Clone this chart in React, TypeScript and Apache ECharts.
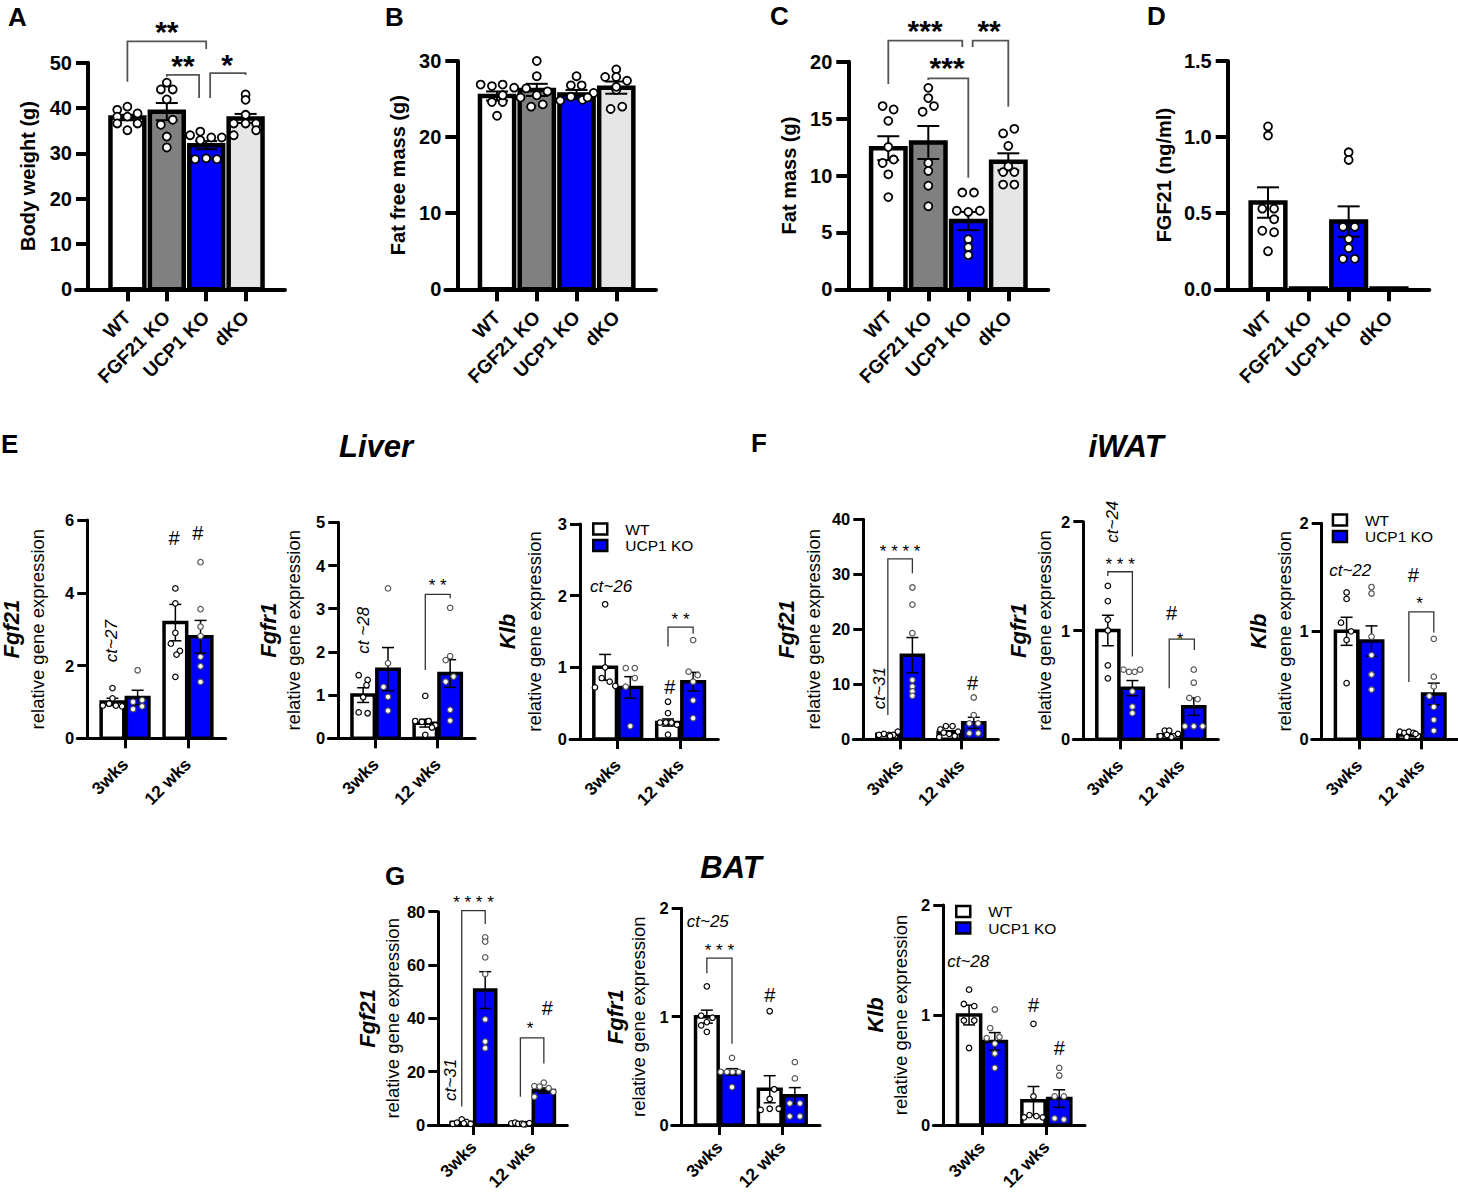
import React, { useEffect, useRef } from "react";
import * as echarts from "echarts";

const FONT = "'Liberation Sans', Arial, Helvetica, sans-serif";

// ---------------- categories ----------------
const genotypes = ["WT", "FGF21 KO", "UCP1 KO", "dKO"];
const ages = ["3wks", "12 wks"];
const legendNames = ["WT", "UCP1 KO"];
const genotypeColors = ["#ffffff", "#808080", "#0000ff", "#e6e6e6"];
const pairColors = ["#ffffff", "#0000ff"];

// ---------------- A: body weight (g) ----------------
const bodyWeightMean = [37.9, 39.2, 31.8, 37.7];
const bodyWeightSem = [0.6, 1.9, 0.9, 1.0];
const bodyWeightDots = [
  [[-0.6, 39.6], [0, 40.3], [0.6, 38.8], [-0.6, 38.1], [0, 38.1], [-0.6, 36.6], [0, 35.1], [0.6, 36.6]],
  [[-0.35, 44.1], [0, 45.6], [0.35, 44.1], [0, 41.9], [-0.35, 36.3], [0.35, 37.4], [0, 33.7], [0, 31.3]],
  [[-0.95, 34.0], [-0.35, 34.8], [0.3, 33.5], [0.92, 33.5], [-0.35, 32.9], [-0.65, 28.7], [0, 28.9], [0.63, 28.7]],
  [[0, 43.0], [0, 41.8], [0, 38.5], [-0.7, 34.0], [-0.7, 36.6], [0.62, 36.6], [0.62, 35.1], [0, 36.6]],
];
// ---------------- B: fat free mass (g) ----------------
const fatFreeMean = [25.4, 26.2, 25.6, 26.5];
const fatFreeSem = [0.6, 0.8, 0.6, 0.8];
const fatFreeDots = [
  [[-0.96, 26.9], [-0.3, 26.7], [0.33, 26.9], [1.0, 26.5], [-0.3, 24.6], [0.33, 24.6], [0, 22.8], [0.33, 25.5]],
  [[-0.62, 26.4], [0, 30.0], [0, 28.0], [0.63, 26.0], [0, 25.5], [-0.33, 24.0], [0.35, 24.3], [-0.95, 25.2]],
  [[0, 28.0], [-0.33, 26.8], [0.3, 26.8], [-0.95, 24.8], [-0.33, 25.3], [0.35, 24.9], [1.0, 25.8], [0.65, 25.2]],
  [[0, 28.9], [-0.65, 27.9], [0, 27.9], [0.63, 27.4], [0, 26.2], [-0.33, 23.7], [0.35, 24.0], [0, 26.6]],
];
// ---------------- C: fat mass (g) ----------------
const fatMassMean = [12.4, 12.9, 6.0, 11.2];
const fatMassSem = [1.05, 1.45, 0.8, 0.75];
const fatMassDots = [
  [[-0.33, 16.1], [0.31, 15.8], [0, 14.8], [0, 12.5], [0.31, 11.4], [-0.33, 11.1], [0, 10.1], [0, 8.1]],
  [[0, 17.7], [0, 16.8], [0.33, 16.1], [-0.33, 15.6], [0, 11.1], [0, 10.4], [0, 9.1], [0, 7.3]],
  [[-0.35, 8.5], [0.33, 8.5], [-0.67, 6.9], [0, 6.8], [0.67, 6.9], [0, 4.4], [0, 3.7], [0, 3.0]],
  [[-0.3, 13.7], [0.35, 14.1], [0, 12.6], [-0.3, 10.3], [0.35, 10.3], [0, 10.8], [-0.3, 9.2], [0.35, 9.2]],
];
// ---------------- D: serum FGF21 (ng/ml) ----------------
const serumFgf21Mean = [0.57, 0.005, 0.445, 0.005];
const serumFgf21Sem = [0.1, 0, 0.1, 0];
const serumFgf21Dots = [
  [[0, 1.07], [0, 1.01], [-0.33, 0.53], [0.35, 0.53], [0.35, 0.46], [-0.33, 0.385], [0.35, 0.375], [0, 0.25]],
  [],
  [[0, 0.9], [0, 0.85], [-0.33, 0.41], [0.35, 0.41], [0, 0.33], [0, 0.27], [-0.33, 0.2], [0.35, 0.2]],
  [],
];

// ---------------- E: liver  ([WT, UCP1 KO] x [3wks, 12 wks]) ----------------
const liverFgf21Mean = [[1.0, 3.18], [1.12, 2.79]];
const liverFgf21Sem = [[0.1, 0.5], [0.2, 0.45]];
const liverFgf21Dots = [
  [[[0, 1.38], [-0.85, 0.9], [-0.3, 0.95], [0.3, 0.9], [0.85, 0.88], [0, 1.1]],
   [[0, 4.12], [0, 3.71], [0, 2.9], [-0.4, 2.6], [0.4, 2.4], [0.1, 2.3], [0, 1.69]]],
  [[[0, 1.87], [-0.4, 1.0], [0.4, 1.05], [-0.4, 0.8], [0.4, 0.88]],
   [[0, 4.84], [0, 3.55], [0, 3.07], [0, 2.81], [0, 2.24], [0, 1.98], [0, 1.55]]],
];
const liverFgfr1Mean = [[1.0, 0.35], [1.6, 1.5]];
const liverFgfr1Sem = [[0.17, 0.09], [0.5, 0.32]];
const liverFgfr1Dots = [
  [[[-0.4, 1.46], [0.4, 1.35], [0.3, 1.23], [0, 0.95], [-0.4, 0.6], [0.4, 0.58]],
   [[0, 0.98], [-0.9, 0.4], [-0.3, 0.38], [0.3, 0.4], [0.9, 0.3], [0.6, 0.25], [0, 0.08]]],
  [[[0, 3.47], [0, 1.74], [-0.4, 1.19], [0, 0.96], [0, 0.64]],
   [[0, 3.02], [0, 1.9], [-0.4, 1.81], [0.3, 1.43], [-0.4, 1.31], [0, 0.66], [0, 0.41]]],
];
const liverKlbMean = [[1.0, 0.23], [0.72, 0.8]];
const liverKlbSem = [[0.18, 0.05], [0.15, 0.13]];
const liverKlbDots = [
  [[[0, 1.88], [0, 1.0], [-0.3, 0.85], [0.4, 0.8], [-0.9, 0.72], [0.9, 0.74]],
   [[0, 0.52], [0, 0.36], [-0.7, 0.23], [-0.2, 0.23], [0.3, 0.23], [0.8, 0.2], [0, 0.06]]],
  [[[-0.4, 0.99], [0.4, 0.99], [0.4, 0.85], [-0.4, 0.73], [0, 0.18]],
   [[0, 1.38], [-0.4, 0.94], [0.4, 0.89], [0, 0.8], [0, 0.54], [0, 0.29]]],
];

// ---------------- F: iWAT ----------------
const iwatFgf21Mean = [[0.9, 1.3], [15.3, 3.0]];
const iwatFgf21Sem = [[0.15, 0.25], [3.2, 1.0]];
const iwatFgf21Dots = [
  [[[-0.8, 0.8], [-0.35, 1.0], [0.1, 0.8], [0.5, 0.8], [0.9, 1.4], [0.2, 0.6]],
   [[-0.3, 2.4], [0.3, 2.4], [-0.8, 1.8], [0.8, 1.4], [-0.5, 1.2], [0, 1.0], [0.5, 0.6], [-0.9, 0.4]]],
  [[[0, 27.6], [0, 24.5], [0, 19.3], [0, 10.8], [0, 9.6], [0, 8.7], [0, 7.9]],
   [[0, 7.6], [0, 4.4], [-0.4, 2.9], [0.4, 2.9], [-0.4, 1.1], [0.4, 1.1]]],
];
const iwatFgfr1Mean = [[1.0, 0.04], [0.47, 0.3]];
const iwatFgfr1Sem = [[0.14, 0.01], [0.07, 0.08]];
const iwatFgfr1Dots = [
  [[[0, 1.41], [0, 1.27], [0, 1.1], [0, 1.0], [0, 0.68], [0, 0.56]],
   [[-0.8, 0.03], [-0.4, 0.08], [0, 0.08], [0.4, 0.03], [0.8, 0.05], [0.2, 0.02], [-0.2, 0.04]]],
  [[[-0.8, 0.64], [-0.3, 0.62], [0.2, 0.62], [0.7, 0.64], [0, 0.44], [0, 0.3], [0, 0.24]],
   [[0, 0.64], [0, 0.52], [-0.4, 0.38], [0.35, 0.37], [-0.8, 0.12], [0, 0.12], [0.8, 0.12]]],
];
const iwatKlbMean = [[1.0, 0.04], [0.91, 0.42]];
const iwatKlbSem = [[0.13, 0.01], [0.14, 0.1]];
const iwatKlbDots = [
  [[[0, 1.36], [0, 1.3], [-0.5, 1.08], [0.4, 1.0], [0, 0.92], [0, 0.52]],
   [[-0.8, 0.07], [-0.4, 0.06], [0, 0.07], [0.4, 0.06], [0.8, 0.03], [-0.2, 0.02], [0.6, 0.05]]],
  [[[0, 1.41], [0, 1.35], [0, 0.95], [0, 0.78], [0, 0.6], [0, 0.46]],
   [[0, 0.93], [0, 0.58], [0, 0.49], [-0.4, 0.4], [0, 0.3], [0, 0.18], [0, 0.08]]],
];

// ---------------- G: BAT ----------------
const batFgf21Mean = [[1.0, 0.5], [50.6, 12.9]];
const batFgf21Sem = [[0.3, 0.1], [6.9, 1.0]];
const batFgf21Dots = [
  [[[-0.85, 0.4], [-0.45, 0.9], [0, 2.1], [0.45, 1.2], [0.85, 0.4], [0.2, 0.6]],
   [[-0.85, 0.6], [-0.5, 0.9], [-0.2, 0.4], [0.15, 0.5], [0.5, 0.3], [0.85, 0.7], [0.3, 0.2]]],
  [[[0, 70.4], [0, 68.8], [0, 62.9], [0, 56.6], [0, 39.6], [0, 31.3], [0, 28.8]],
   [[0, 15.9], [-0.9, 14.6], [-0.4, 14.4], [0.45, 13.8], [0.9, 12.4], [-0.9, 10.6]]],
];
const batFgfr1Mean = [[1.0, 0.33], [0.49, 0.27]];
const batFgfr1Sem = [[0.06, 0.125], [0.03, 0.075]];
const batFgfr1Dots = [
  [[[0, 1.28], [-0.5, 1.01], [0.5, 0.99], [0, 0.95], [-0.5, 0.92], [0, 0.86]],
   [[0, 1.05], [0.4, 0.33], [0, 0.24], [-0.8, 0.14], [0, 0.15], [0.8, 0.15]]],
  [[[0, 0.62], [-1.0, 0.49], [-0.45, 0.49], [0.05, 0.49], [0.6, 0.49], [0, 0.35]],
   [[0, 0.58], [0, 0.43], [-0.45, 0.2], [0.45, 0.2], [-0.45, 0.08], [0.45, 0.08]]],
];
const batKlbMean = [[1.0, 0.22], [0.76, 0.24]];
const batKlbSem = [[0.09, 0.13], [0.08, 0.08]];
const batKlbDots = [
  [[[0, 1.23], [-0.45, 1.1], [0.45, 1.08], [-0.45, 0.95], [0.45, 0.95], [0, 0.7]],
   [[0, 0.92], [0, 0.26], [-0.8, 0.07], [-0.35, 0.09], [0.25, 0.08], [0.8, 0.07]]],
  [[[0, 1.05], [-0.4, 0.88], [0.4, 0.8], [-0.7, 0.79], [0, 0.74], [0, 0.65], [0, 0.52]],
   [[0, 0.52], [0, 0.45], [-0.4, 0.26], [0.4, 0.26], [-0.4, 0.06], [0.4, 0.05]]],
];

// ---------------- annotations (data coordinates) ----------------
const bodyWeightAnn = [
  { t: "br", x1: 1, x2: 3, y: 54.7, yl: 45.8, yr: 53.0 },
  { t: "tx", x: 2, y: 58.6, text: "**" },
  { t: "br", x1: 2, x2: 2.82, y: 47.3, yl: 46.9, yr: 42.2 },
  { t: "tx", x: 2.41, y: 51.1, text: "**" },
  { t: "br", x1: 3.1, x2: 4, y: 47.7, yl: 42.2, yr: 47.3 },
  { t: "tx", x: 3.53, y: 51.3, text: "*" },
];
const fatMassAnn = [
  { t: "br", x1: 1, x2: 2.85, y: 21.85, yl: 18.04, yr: 21.3 },
  { t: "tx", x: 1.92, y: 23.4, text: "***" },
  { t: "br", x1: 3.11, x2: 4, y: 21.85, yl: 21.3, yr: 16.05 },
  { t: "tx", x: 3.52, y: 23.4, text: "**" },
  { t: "br", x1: 2, x2: 3, y: 18.54, yl: 18.39, yr: 9.8 },
  { t: "tx", x: 2.47, y: 20.15, text: "***" },
];
const liverFgf21Ann = [
  { t: "tx", x: 1.378, y: 5.5, text: "#" },
  { t: "tx", x: 1.755, y: 5.63, text: "#" },
  { t: "tx", x: 0.388, y: 2.67, text: "ct~27", it: true, rot: true },
];
const liverFgfr1Ann = [
  { t: "br", x1: 1.4, x2: 1.8, y: 3.33, yl: 1.58, yr: 3.24 },
  { t: "tx", x: 1.6, y: 3.64, text: "* *" },
  { t: "tx", x: 0.41, y: 2.5, text: "ct ~28", it: true, rot: true },
];
const liverKlbAnn = [
  { t: "tx", x: 1.43, y: 0.73, text: "#" },
  { t: "br", x1: 1.4, x2: 1.8, y: 1.56, yl: 1.29, yr: 1.47 },
  { t: "tx", x: 1.6, y: 1.73, text: "* *" },
  { t: "tx", x: 0.16, y: 2.13, text: "ct~26", it: true, align: "left" },
];
const iwatFgf21Ann = [
  { t: "br", x1: 0.4, x2: 0.8, y: 32.8, yl: 4.4, yr: 30.2 },
  { t: "tx", x: 0.6, y: 35.0, text: "* * * *" },
  { t: "tx", x: 1.78, y: 10.2, text: "#" },
  { t: "tx", x: 0.27, y: 9.3, text: "ct~31", it: true, rot: true },
];
const iwatFgfr1Ann = [
  { t: "br", x1: 0.4, x2: 0.8, y: 1.54, yl: 1.5, yr: 0.76 },
  { t: "tx", x: 0.6, y: 1.65, text: "* * *" },
  { t: "tx", x: 0.47, y: 2.0, text: "ct~24", it: true, rot: true },
  { t: "tx", x: 1.44, y: 1.16, text: "#" },
  { t: "tx", x: 1.575, y: 0.96, text: "*" },
  { t: "br", x1: 1.4, x2: 1.81, y: 0.92, yl: 0.47, yr: 0.82 },
];
const iwatKlbAnn = [
  { t: "tx", x: 0.12, y: 1.56, text: "ct~22", it: true, align: "left" },
  { t: "tx", x: 1.47, y: 1.52, text: "#" },
  { t: "tx", x: 1.57, y: 1.3, text: "*" },
  { t: "br", x1: 1.4, x2: 1.8, y: 1.18, yl: 0.53, yr: 0.99 },
];
const batFgf21Ann = [
  { t: "br", x1: 0.4, x2: 0.8, y: 80.4, yl: 6.9, yr: 75.4 },
  { t: "tx", x: 0.6, y: 85, text: "* * * *" },
  { t: "br", x1: 1.4, x2: 1.8, y: 32.7, yl: 10.6, yr: 23.1 },
  { t: "tx", x: 1.565, y: 37.9, text: "*" },
  { t: "tx", x: 1.86, y: 43.8, text: "#" },
  { t: "tx", x: 0.2, y: 16.9, text: "ct~31", it: true, rot: true },
];
const batFgfr1Ann = [
  { t: "tx", x: 0.08, y: 1.88, text: "ct~25", it: true, align: "left" },
  { t: "br", x1: 0.4, x2: 0.8, y: 1.54, yl: 1.4, yr: 0.75 },
  { t: "tx", x: 0.6, y: 1.65, text: "* * *" },
  { t: "tx", x: 1.4, y: 1.2, text: "#" },
];
const batKlbAnn = [
  { t: "tx", x: 0.06, y: 1.49, text: "ct~28", it: true, align: "left" },
  { t: "tx", x: 1.4, y: 1.09, text: "#" },
  { t: "tx", x: 1.8, y: 0.7, text: "#" },
];

// ---------------- panel layout ----------------
const panels: any[] = [
  { kind: "four", axisX: 88, xEnd: 285, top: 62.7, bottom: 289.3, yMax: 50, yInt: 10,
    mean: [bodyWeightMean], sem: [bodyWeightSem], dots: [bodyWeightDots], ann: bodyWeightAnn,
    title: "Body weight (g)", titleX: 27.5 },
  { kind: "four", axisX: 457.3, xEnd: 656, top: 61, bottom: 289.3, yMax: 30, yInt: 10,
    mean: [fatFreeMean], sem: [fatFreeSem], dots: [fatFreeDots], ann: [],
    title: "Fat free mass (g)", titleX: 398 },
  { kind: "four", axisX: 848.3, xEnd: 1048.3, top: 61.7, bottom: 289.3, yMax: 20, yInt: 5,
    mean: [fatMassMean], sem: [fatMassSem], dots: [fatMassDots], ann: fatMassAnn,
    title: "Fat mass (g)", titleX: 789 },
  { kind: "four", axisX: 1227.7, xEnd: 1429.3, top: 61, bottom: 289.3, yMax: 1.5, yInt: 0.5, dec: 1,
    mean: [serumFgf21Mean], sem: [serumFgf21Sem], dots: [serumFgf21Dots], ann: [],
    title: "FGF21 (ng/ml)", titleX: 1164 },
  { kind: "pair", axisX: 87.3, xEnd: 225.7, top: 520, bottom: 738.3, yMax: 6, yInt: 2,
    mean: liverFgf21Mean, sem: liverFgf21Sem, dots: liverFgf21Dots, ann: liverFgf21Ann,
    gene: "Fgf21", geneX: 11, titleX: 37.5 },
  { kind: "pair", axisX: 338.3, xEnd: 475, top: 522.3, bottom: 738.3, yMax: 5, yInt: 1,
    mean: liverFgfr1Mean, sem: liverFgfr1Sem, dots: liverFgfr1Dots, ann: liverFgfr1Ann,
    gene: "Fgfr1", geneX: 268.5, titleX: 293.5 },
  { kind: "pair", axisX: 580, xEnd: 718.3, top: 524, bottom: 739, yMax: 3, yInt: 1,
    mean: liverKlbMean, sem: liverKlbSem, dots: liverKlbDots, ann: liverKlbAnn,
    gene: "Klb", geneX: 507.5, titleX: 534, legend: [592, 521] },
  { kind: "pair", axisX: 863.3, xEnd: 998.3, top: 519.3, bottom: 739.3, yMax: 40, yInt: 10,
    mean: iwatFgf21Mean, sem: iwatFgf21Sem, dots: iwatFgf21Dots, ann: iwatFgf21Ann,
    gene: "Fgf21", geneX: 786.5, titleX: 813 },
  { kind: "pair", axisX: 1083.3, xEnd: 1218.3, top: 521.7, bottom: 739.3, yMax: 2, yInt: 1,
    mean: iwatFgfr1Mean, sem: iwatFgfr1Sem, dots: iwatFgfr1Dots, ann: iwatFgfr1Ann,
    gene: "Fgfr1", geneX: 1018.5, titleX: 1044 },
  { kind: "pair", axisX: 1321.7, xEnd: 1458.7, top: 523.3, bottom: 739.3, yMax: 2, yInt: 1,
    mean: iwatKlbMean, sem: iwatKlbSem, dots: iwatKlbDots, ann: iwatKlbAnn,
    gene: "Klb", geneX: 1258, titleX: 1284, legend: [1331.7, 512] },
  { kind: "pair", axisX: 438.3, xEnd: 567.3, top: 911.7, bottom: 1125, yMax: 80, yInt: 20,
    mean: batFgf21Mean, sem: batFgf21Sem, dots: batFgf21Dots, ann: batFgf21Ann,
    gene: "Fgf21", geneX: 367.5, titleX: 392.5, labelMargin: 19 },
  { kind: "pair", axisX: 681.7, xEnd: 820, top: 908.3, bottom: 1125, yMax: 2, yInt: 1,
    mean: batFgfr1Mean, sem: batFgfr1Sem, dots: batFgfr1Dots, ann: batFgfr1Ann,
    gene: "Fgfr1", geneX: 615.5, titleX: 638, labelMargin: 19 },
  { kind: "pair", axisX: 943.3, xEnd: 1085, top: 905, bottom: 1125, yMax: 2, yInt: 1,
    mean: batKlbMean, sem: batKlbSem, dots: batKlbDots, ann: batKlbAnn,
    gene: "Klb", geneX: 875.5, titleX: 900, legend: [955, 903.5], labelMargin: 19 },
];

const panelLetters = [
  { text: "A", x: 8, y: 17 }, { text: "B", x: 385, y: 17 }, { text: "C", x: 770, y: 16 },
  { text: "D", x: 1147, y: 16 }, { text: "E", x: 1, y: 444 }, { text: "F", x: 751, y: 443 },
  { text: "G", x: 385, y: 876 },
];
const tissueTitles = [
  { text: "Liver", x: 376, y: 446 }, { text: "iWAT", x: 1126, y: 446 }, { text: "BAT", x: 731, y: 867 },
];

function renderAnn(a: any, api: any, four: boolean) {
  if (a.t === "br") {
    const p0 = api.coord([a.x1, a.yl]);
    const p1 = api.coord([a.x1, a.y]);
    const p2 = api.coord([a.x2, a.y]);
    const p3 = api.coord([a.x2, a.yr]);
    return {
      type: "polyline",
      shape: { points: [p0, p1, p2, p3] },
      style: { stroke: four ? "#555" : "#333", lineWidth: four ? 1.8 : 1.3, fill: null },
    };
  }
  const p = api.coord([a.x, a.y]);
  const stars = /^[* ]+$/.test(a.text);
  const size = a.size ?? (four ? 30 : a.it ? 17 : stars ? 17 : 20);
  return {
    type: "text",
    x: p[0],
    y: p[1] + (stars ? size * 0.25 : 0),
    rotation: a.rot ? Math.PI / 2 : 0,
    style: {
      text: a.text,
      fontSize: size,
      fontFamily: FONT,
      fontWeight: four ? "bold" : "normal",
      fontStyle: a.it ? "italic" : "normal",
      fill: "#000",
      align: a.align ?? "center",
      verticalAlign: "middle",
    },
  };
}

function buildOption() {
  const grid: any[] = [];
  const xAxis: any[] = [];
  const yAxis: any[] = [];
  const series: any[] = [];
  const graphic: any[] = [];
  const legend: any[] = [];

  panels.forEach((p, i) => {
    const four = p.kind === "four";
    const xMax = four ? 5 : 2.2;
    const centers = four ? [1, 2, 3, 4] : [0.6, 1.6];
    const labels = four ? genotypes : ages;
    const tick = four ? 12 : 10;
    const lw = four ? 4 : 3;
    const unit = (p.xEnd - p.axisX) / xMax;
    const xMin = -tick / unit;
    const barW = four ? 0.86 : 0.36;
    const offsets = four ? [0] : [-0.2, 0.2];

    grid.push({
      left: p.axisX - tick, top: p.top, width: p.xEnd - p.axisX + tick, height: p.bottom - p.top,
      containLabel: false, outerBoundsMode: "none",
    });
    xAxis.push({
      type: "value", gridIndex: i, min: xMin, max: xMax,
      axisLine: { show: true, onZero: false, lineStyle: { color: "#000", width: lw } },
      axisTick: { show: true, length: tick, customValues: centers, lineStyle: { color: "#000", width: lw } },
      axisLabel: {
        show: true, customValues: centers, rotate: 45, margin: p.labelMargin ?? (four ? 25 : 23), color: "#000",
        fontFamily: FONT, fontWeight: "bold", fontSize: four ? 19 : 17.5,
        formatter: (v: number) => {
          const k = centers.findIndex((c) => Math.abs(c - v) < 1e-6);
          return k >= 0 ? labels[k] : "";
        },
      },
      splitLine: { show: false },
    });
    yAxis.push({
      type: "value", gridIndex: i, min: 0, max: p.yMax, interval: p.yInt,
      axisLine: { show: true, onZero: true, lineStyle: { color: "#000", width: lw } },
      axisTick: { show: true, inside: false, length: tick, lineStyle: { color: "#000", width: lw } },
      axisLabel: {
        show: true, color: "#000", fontFamily: FONT, fontWeight: "bold", fontSize: four ? 20 : 16.5,
        margin: four ? 4 : 3,
        formatter: (v: number) => (p.dec ? v.toFixed(p.dec) : String(Math.round(v * 100) / 100)),
      },
      splitLine: { show: false },
    });

    p.mean.forEach((means: number[], g: number) => {
      const name = four ? "Group mean " + i : legendNames[g];
      const xs = centers.map((c) => c + offsets[g]);
      const colors = four ? genotypeColors : centers.map(() => pairColors[g]);
      const data = means.map((m, k) => [xs[k], m, p.sem[g][k]]);
      const borderW = four ? 4.5 : 3.5;
      series.push({
        type: "custom", name, coordinateSystem: "cartesian2d", xAxisIndex: i, yAxisIndex: i,
        clip: false, silent: true, z: 2,
        itemStyle: { color: four ? "#fff" : pairColors[g], borderColor: "#000", borderWidth: borderW },
        data,
        renderItem: (params: any, api: any) => {
          const x = api.value(0);
          const y = api.value(1);
          const tl = api.coord([x - barW / 2, y]);
          const br = api.coord([x + barW / 2, 0]);
          return {
            type: "rect",
            shape: { x: tl[0], y: tl[1], width: br[0] - tl[0], height: br[1] - tl[1] },
            style: { fill: colors[params.dataIndex], stroke: "#000", lineWidth: borderW },
          };
        },
      });
      series.push({
        type: "custom", name: name + " SEM", coordinateSystem: "cartesian2d", xAxisIndex: i, yAxisIndex: i,
        clip: false, silent: true, z: 3, data,
        renderItem: (params: any, api: any) => {
          const x = api.value(0);
          const m = api.value(1);
          const s = api.value(2);
          if (!s) return { type: "group", children: [] };
          const t = api.coord([x, m + s]);
          const b = api.coord([x, m - s]);
          const cap = four ? 11 : 6;
          const st = { stroke: "#000", lineWidth: four ? 2 : 1.5 };
          return {
            type: "group",
            children: [
              { type: "line", shape: { x1: t[0], y1: t[1], x2: b[0], y2: b[1] }, style: st },
              { type: "line", shape: { x1: t[0] - cap, y1: t[1], x2: t[0] + cap, y2: t[1] }, style: st },
              { type: "line", shape: { x1: b[0] - cap, y1: b[1], x2: b[0] + cap, y2: b[1] }, style: st },
            ],
          };
        },
      });
      const dotData: number[][] = [];
      p.dots[g].forEach((arr: number[][], k: number) =>
        arr.forEach(([dx, y]) => dotData.push([xs[k] + (dx * barW) / 2, y]))
      );
      series.push({
        type: "scatter", name: name + " points", xAxisIndex: i, yAxisIndex: i, silent: true, z: 4,
        symbol: "circle", symbolSize: four ? 8 : 5.5,
        itemStyle: { color: "#fff", borderColor: !four && g === 1 ? "#555" : "#000", borderWidth: four ? 1.8 : 1.2, opacity: 1 },
        data: dotData,
      });
    });

    if (p.ann.length) {
      series.push({
        type: "custom", name: "annotations " + i, coordinateSystem: "cartesian2d", xAxisIndex: i, yAxisIndex: i,
        clip: false, silent: true, z: 5,
        data: p.ann.map((a: any) => [a.x ?? a.x1, a.y]),
        renderItem: (params: any, api: any) => renderAnn(p.ann[params.dataIndex], api, four),
      });
    }

    const midY = (p.top + p.bottom) / 2;
    if (four) {
      graphic.push({
        type: "text", x: p.titleX, y: midY, rotation: Math.PI / 2, silent: true,
        style: { text: p.title, fontSize: 20, fontWeight: "bold", fontFamily: FONT, fill: "#000", align: "center", verticalAlign: "middle" },
      });
    } else {
      graphic.push({
        type: "text", x: p.geneX, y: midY, rotation: Math.PI / 2, silent: true,
        style: { text: p.gene, fontSize: 22, fontWeight: "bold", fontStyle: "italic", fontFamily: FONT, fill: "#000", align: "center", verticalAlign: "middle" },
      });
      graphic.push({
        type: "text", x: p.titleX, y: midY, rotation: Math.PI / 2, silent: true,
        style: { text: "relative gene expression", fontSize: 18.5, fontFamily: FONT, fill: "#000", align: "center", verticalAlign: "middle" },
      });
    }
    if (p.legend) {
      legend.push({
        left: p.legend[0], top: p.legend[1], orient: "vertical", icon: "rect", itemWidth: 14, itemHeight: 11,
        itemGap: 0.5, padding: 0, selectedMode: false,
        data: [
          { name: "WT", itemStyle: { color: "#fff", borderColor: "#000", borderWidth: 2.5 } },
          { name: "UCP1 KO", itemStyle: { color: "#0000ff", borderColor: "#000", borderWidth: 2.5 } },
        ],
        textStyle: { fontSize: 15.5, fontFamily: FONT, color: "#000", lineHeight: 15, padding: [0, 0, 0, 13] },
      });
    }
  });

  panelLetters.forEach((l) =>
    graphic.push({
      type: "text", x: l.x, y: l.y, silent: true,
      style: { text: l.text, fontSize: 26, fontWeight: "bold", fontFamily: FONT, fill: "#000", align: "left", verticalAlign: "middle" },
    })
  );
  tissueTitles.forEach((l) =>
    graphic.push({
      type: "text", x: l.x, y: l.y, silent: true,
      style: { text: l.text, fontSize: 31, fontWeight: "bold", fontStyle: "italic", fontFamily: FONT, fill: "#000", align: "center", verticalAlign: "middle" },
    })
  );

  return {
    animation: false,
    backgroundColor: "#ffffff",
    textStyle: { fontFamily: FONT },
    grid, xAxis, yAxis, series, legend,
    graphic: { elements: graphic },
  };
}

export default function App() {
  const ref = useRef<HTMLDivElement>(null);
  useEffect(() => {
    const chart = echarts.init(ref.current as HTMLDivElement, null, { renderer: "svg" });
    chart.setOption(buildOption() as any);
    return () => chart.dispose();
  }, []);
  return (
    <div
      ref={ref}
      style={{ position: "absolute", left: 0, top: 0, width: 1458, height: 1193, background: "#fff" }}
    />
  );
}
